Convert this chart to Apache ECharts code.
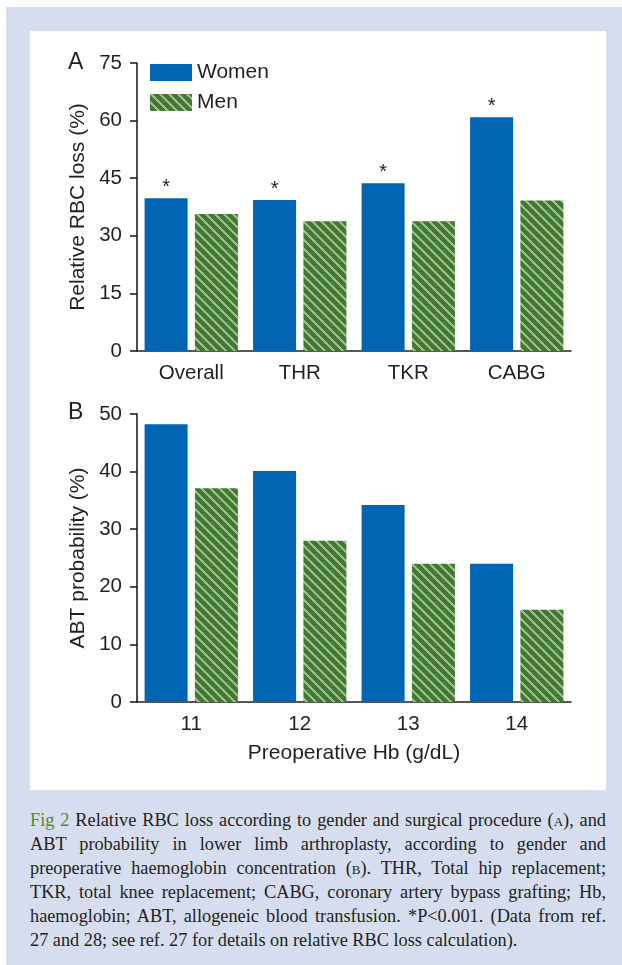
<!DOCTYPE html>
<html>
<head>
<meta charset="utf-8">
<script src="https://cdn.jsdelivr.net/npm/echarts@6/dist/echarts.min.js"></script>
<style>
html,body{margin:0;padding:0;background:#fff;}
#outer{position:absolute;left:6px;top:7px;width:616px;height:958px;background:#d5ddee;}
#panel{position:absolute;left:30px;top:31px;width:576px;height:759px;background:#fff;}
#chart{position:absolute;left:0;top:0;width:622px;height:800px;}
#caption{position:absolute;left:30px;top:808px;width:576px;font-family:"Liberation Serif",serif;font-size:18.3px;color:#231f20;}
#caption div{height:24px;line-height:24px;white-space:nowrap;text-align:justify;text-align-last:justify;}
#caption div.last{text-align-last:left;}
#caption .fig{color:#55893d;}
#caption .sc{font-variant:small-caps;}
</style>
</head>
<body>
<div id="outer"></div>
<div id="panel"></div>
<div id="chart"></div>
<div id="caption">
<div><span class="fig">Fig 2</span> Relative RBC loss according to gender and surgical procedure (<span class="sc">a</span>), and</div>
<div>ABT probability in lower limb arthroplasty, according to gender and</div>
<div>preoperative haemoglobin concentration (<span class="sc">b</span>). THR, Total hip replacement;</div>
<div>TKR, total knee replacement; CABG, coronary artery bypass grafting; Hb,</div>
<div>haemoglobin; ABT, allogeneic blood transfusion. *P&lt;0.001. (Data from ref.</div>
<div class="last">27 and 28; see ref. 27 for details on relative RBC loss calculation).</div>
</div>
<script>
// ---- data ----
const seriesNames = ['Women', 'Men'];
const catsA = ['Overall', 'THR', 'TKR', 'CABG'];
const womenA = [39.8, 39.3, 43.7, 60.9];
const menA = [35.7, 33.8, 33.8, 39.2];
const starsA = ['*', '*', '*', '*'];
const ticksA = {min: 0, max: 75, interval: 15};
const catsB = ['11', '12', '13', '14'];
const womenB = [48.2, 40.1, 34.2, 24.0];
const menB = [37.1, 28.0, 24.0, 16.0];
const ticksB = {min: 0, max: 50, interval: 10};

// ---- styles ----
const blue = '#0066b3';
const ink = '#231f20';
const font = '"Liberation Sans", Arial, sans-serif';

function makeStripe() {
  const n = 9;
  const c = document.createElement('canvas');
  c.width = n; c.height = n;
  const ctx = c.getContext('2d');
  const img = ctx.createImageData(n, n);
  const dg = [0x3e, 0x7a, 0x30], lg = [0xa0, 0xb9, 0x8e];
  for (let y = 0; y < n; y++) {
    for (let x = 0; x < n; x++) {
      const d = ((x - y) % n + n) % n;
      const col = d < 3 ? lg : dg;
      const i = (y * n + x) * 4;
      img.data[i] = col[0]; img.data[i+1] = col[1]; img.data[i+2] = col[2]; img.data[i+3] = 255;
    }
  }
  ctx.putImageData(img, 0, 0);
  return c;
}
const stripe = {image: makeStripe(), repeat: 'repeat'};

const chart = echarts.init(document.getElementById('chart'), null, {renderer: 'canvas'});

const axisLine = {show: true, lineStyle: {color: ink, width: 1.6}};
function yAxis(idx, t, name) {
  return {
    type: 'value', gridIndex: idx, min: t.min, max: t.max, interval: t.interval,
    name: name, nameLocation: 'middle', nameGap: 48, nameRotate: 90,
    nameTextStyle: {fontFamily: font, fontSize: 21, color: ink},
    axisLine: axisLine,
    axisTick: {show: true, length: 7, lineStyle: {color: ink, width: 1.6}},
    axisLabel: {fontFamily: font, fontSize: 20.5, color: ink, margin: 15},
    splitLine: {show: false}
  };
}
function xAxis(idx, cats, name) {
  return {
    type: 'category', gridIndex: idx, data: cats,
    name: name || '', nameLocation: 'middle', nameGap: 41,
    nameTextStyle: {fontFamily: font, fontSize: 21, color: ink},
    axisLine: axisLine, axisTick: {show: false},
    axisLabel: {fontFamily: font, fontSize: 20.5, color: ink, margin: 12}
  };
}

const option = {
  backgroundColor: 'transparent',
  animation: false,
  grid: [
    {left: 137, width: 434, top: 63, height: 288},
    {left: 137, width: 434, top: 414, height: 288}
  ],
  legend: {
    data: seriesNames, orient: 'vertical', left: 150, top: 62,
    itemWidth: 42, itemHeight: 17, itemGap: 9, icon: 'rect',
    textStyle: {fontFamily: font, fontSize: 21, color: ink},
    padding: 0
  },
  xAxis: [xAxis(0, catsA), xAxis(1, catsB, 'Preoperative Hb (g/dL)')],
  yAxis: [yAxis(0, ticksA, 'Relative RBC loss (%)'), yAxis(1, ticksB, 'ABT probability (%)')],
  graphic: [
    {type: 'text', left: 68, top: 51, style: {text: 'A', fontFamily: font, fontSize: 23, fill: ink}},
    {type: 'text', left: 68, top: 401, style: {text: 'B', fontFamily: font, fontSize: 23, fill: ink}}
  ],
  series: [
    {name: seriesNames[0], type: 'bar', xAxisIndex: 0, yAxisIndex: 0, data: womenA,
     barWidth: 43, barGap: '17%', itemStyle: {color: blue},
     label: {show: true, position: 'top', distance: 1, fontFamily: font, fontSize: 20, color: ink,
             formatter: p => starsA[p.dataIndex]}},
    {name: seriesNames[1], type: 'bar', xAxisIndex: 0, yAxisIndex: 0, data: menA,
     barWidth: 43, barGap: '17%', itemStyle: {color: stripe}},
    {name: seriesNames[0], type: 'bar', xAxisIndex: 1, yAxisIndex: 1, data: womenB,
     barWidth: 43, barGap: '17%', itemStyle: {color: blue}},
    {name: seriesNames[1], type: 'bar', xAxisIndex: 1, yAxisIndex: 1, data: menB,
     barWidth: 43, barGap: '17%', itemStyle: {color: stripe}}
  ]
};
chart.setOption(option);
</script>
</body>
</html>
